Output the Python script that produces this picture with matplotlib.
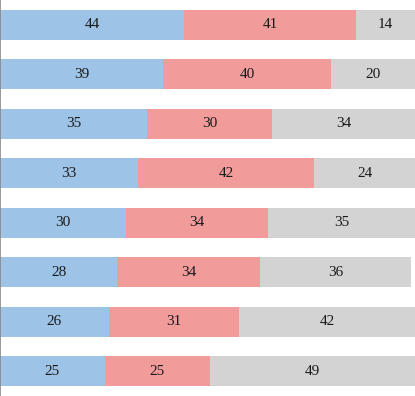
import matplotlib
matplotlib.use("Agg")
import matplotlib.pyplot as plt
import numpy as np

# values per row, top to bottom
first = [44, 39, 35, 33, 30, 28, 26, 25]
second = [41, 40, 30, 42, 34, 34, 31, 25]
third = [14, 20, 34, 24, 35, 36, 42, 49]

colours = ["#9dc3e6", "#f29b9b", "#d3d3d3"]

plt.rcParams["font.family"] = ["Liberation Serif", "DejaVu Serif"]

fig = plt.figure(figsize=(4.15, 3.96), dpi=100)
ax = fig.add_axes([0, 0, 1, 1])

rows = np.arange(len(first))
left = np.zeros(len(first))
for vals, col in zip([first, second, third], colours):
    vals = np.array(vals, dtype=float)
    ax.barh(rows, vals, left=left, height=0.61, color=col, edgecolor="none")
    for y, l, v in zip(rows, left, vals):
        ax.text(l + v / 2, y, f"{v:g}", ha="center", va="center", fontsize=11, color="#1a1a1a")
    left = left + vals

ax.set_xlim(0, 99)
ax.set_ylim(len(first) - 0.5, -0.5)
ax.set_xticks([])
ax.set_yticks([])
for side in ["top", "right", "bottom"]:
    ax.spines[side].set_visible(False)
ax.spines["left"].set_color("#888888")
ax.spines["left"].set_linewidth(1.2)

fig.savefig("out.png", dpi=100)
